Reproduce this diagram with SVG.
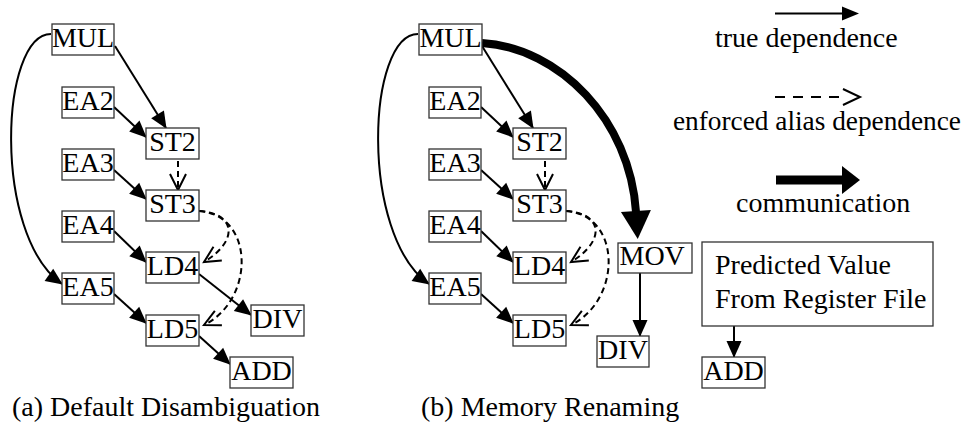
<svg xmlns="http://www.w3.org/2000/svg" width="969" height="431" viewBox="0 0 969 431">
<style>
.box{fill:#fff;stroke:#333;stroke-width:1.3}
.lbl{font-size:28px;fill:#000}
.nt{text-anchor:middle}
.e{fill:none;stroke:#000;stroke-width:2}
.d{fill:none;stroke:#000;stroke-width:2;stroke-dasharray:6,4}
.t{fill:none;stroke:#000;stroke-width:8}
</style>
<defs>
<marker id="ah" markerUnits="userSpaceOnUse" markerWidth="18" markerHeight="16" refX="16" refY="7.5" orient="auto" overflow="visible">
<path d="M0,0 L17,7.5 L0,15 z" fill="#000"/>
</marker>
<marker id="oh" markerUnits="userSpaceOnUse" markerWidth="18" markerHeight="18" refX="16" refY="8" orient="auto" overflow="visible">
<path d="M0,0 L16,8 L0,16" fill="none" stroke="#000" stroke-width="2"/>
</marker>
<marker id="th" markerUnits="userSpaceOnUse" markerWidth="30" markerHeight="32" refX="1" refY="15" orient="auto" overflow="visible">
<path d="M0,0 L28,15 L0,30 z" fill="#000"/>
</marker>
</defs>

<g id="connectors">
<path class="e" d="M51,34 C0,34 -8,235 62,284" marker-end="url(#ah)"/>
<line class="e" x1="115" y1="46" x2="166" y2="128" marker-end="url(#ah)"/>
<line class="e" x1="114" y1="107" x2="146" y2="137" marker-end="url(#ah)"/>
<line class="d" x1="178" y1="161" x2="178" y2="190" marker-end="url(#oh)"/>
<line class="e" x1="114" y1="170" x2="146" y2="199" marker-end="url(#ah)"/>
<path class="d" d="M199,211 C235,213 240,240 204,262" marker-end="url(#oh)"/>
<path class="d" d="M199,211 C255,215 255,300 204,325" marker-end="url(#oh)"/>
<line class="e" x1="114" y1="231" x2="146" y2="262" marker-end="url(#ah)"/>
<line class="e" x1="114" y1="294" x2="146" y2="323" marker-end="url(#ah)"/>
<line class="e" x1="199" y1="274" x2="251" y2="315" marker-end="url(#ah)"/>
<line class="e" x1="199" y1="336" x2="230" y2="364" marker-end="url(#ah)"/>
<path class="e" d="M418,34 C367,34 359,235 429,284" marker-end="url(#ah)"/>
<line class="e" x1="482" y1="46" x2="533" y2="128" marker-end="url(#ah)"/>
<line class="e" x1="481" y1="107" x2="513" y2="137" marker-end="url(#ah)"/>
<line class="d" x1="545" y1="161" x2="545" y2="190" marker-end="url(#oh)"/>
<line class="e" x1="481" y1="170" x2="513" y2="199" marker-end="url(#ah)"/>
<path class="d" d="M566,211 C602,213 607,240 571,262" marker-end="url(#oh)"/>
<path class="d" d="M566,211 C622,215 622,300 571,325" marker-end="url(#oh)"/>
<line class="e" x1="481" y1="231" x2="513" y2="262" marker-end="url(#ah)"/>
<line class="e" x1="481" y1="294" x2="513" y2="323" marker-end="url(#ah)"/>
<path class="t" d="M482,43 C560,48 630,120 636,212" marker-end="url(#th)"/>
<line class="e" x1="640" y1="273" x2="640" y2="336" marker-end="url(#ah)"/>
<line class="e" x1="734" y1="326" x2="734" y2="357" marker-end="url(#ah)"/>
</g>

<g font-family="Liberation Serif, Times New Roman, Times, serif">
<g id="legend">
<line x1="775" y1="13.5" x2="843" y2="13.5" stroke="#000" stroke-width="2"/>
<polygon points="842,6.5 859,13.5 842,20.5" fill="#000"/>
<text class="lbl" x="715" y="46.5">true dependence</text>
<line x1="775" y1="97" x2="841" y2="97" stroke="#000" stroke-width="2" stroke-dasharray="10,8"/>
<polyline points="843,89 860,97 843,105" fill="none" stroke="#000" stroke-width="2"/>
<text class="lbl" x="673" y="130" style="font-size:27.3px">enforced alias dependence</text>
<line x1="776" y1="180" x2="843" y2="180" stroke="#000" stroke-width="9"/>
<polygon points="842,166 860,180 842,194" fill="#000"/>
<text class="lbl" x="736" y="211.5">communication</text>
</g>

<g id="a-MUL"><rect class="box" x="52" y="24" width="62" height="31"/><text class="lbl nt" x="83" y="46.5">MUL</text></g>
<g id="a-EA2"><rect class="box" x="62" y="87" width="52" height="31"/><text class="lbl nt" x="88" y="109.5">EA2</text></g>
<g id="a-ST2"><rect class="box" x="146" y="128" width="53" height="31"/><text class="lbl nt" x="172.5" y="150.5">ST2</text></g>
<g id="a-EA3"><rect class="box" x="62" y="149" width="52" height="31"/><text class="lbl nt" x="88" y="171.5">EA3</text></g>
<g id="a-ST3"><rect class="box" x="146" y="190" width="53" height="31"/><text class="lbl nt" x="172.5" y="212.5">ST3</text></g>
<g id="a-EA4"><rect class="box" x="62" y="211" width="52" height="31"/><text class="lbl nt" x="88" y="233.5">EA4</text></g>
<g id="a-LD4"><rect class="box" x="146" y="252" width="53" height="31"/><text class="lbl nt" x="172.5" y="274.5">LD4</text></g>
<g id="a-EA5"><rect class="box" x="62" y="273" width="52" height="31"/><text class="lbl nt" x="88" y="295.5">EA5</text></g>
<g id="a-LD5"><rect class="box" x="146" y="315" width="53" height="31"/><text class="lbl nt" x="172.5" y="337.5">LD5</text></g>
<g id="a-DIV"><rect class="box" x="251" y="305" width="53" height="31"/><text class="lbl nt" x="277.5" y="327.5">DIV</text></g>
<g id="a-ADD"><rect class="box" x="230" y="357" width="63" height="31"/><text class="lbl nt" x="261.5" y="379.5">ADD</text></g>

<g id="b-MUL"><rect class="box" x="419" y="24" width="63" height="31"/><text class="lbl nt" x="450.5" y="46.5">MUL</text></g>
<g id="b-EA2"><rect class="box" x="429" y="87" width="52" height="31"/><text class="lbl nt" x="455" y="109.5">EA2</text></g>
<g id="b-ST2"><rect class="box" x="513" y="128" width="53" height="31"/><text class="lbl nt" x="539.5" y="150.5">ST2</text></g>
<g id="b-EA3"><rect class="box" x="429" y="149" width="52" height="31"/><text class="lbl nt" x="455" y="171.5">EA3</text></g>
<g id="b-ST3"><rect class="box" x="513" y="190" width="53" height="31"/><text class="lbl nt" x="539.5" y="212.5">ST3</text></g>
<g id="b-EA4"><rect class="box" x="429" y="211" width="52" height="31"/><text class="lbl nt" x="455" y="233.5">EA4</text></g>
<g id="b-LD4"><rect class="box" x="513" y="252" width="53" height="31"/><text class="lbl nt" x="539.5" y="274.5">LD4</text></g>
<g id="b-EA5"><rect class="box" x="429" y="273" width="52" height="31"/><text class="lbl nt" x="455" y="295.5">EA5</text></g>
<g id="b-LD5"><rect class="box" x="513" y="315" width="53" height="31"/><text class="lbl nt" x="539.5" y="337.5">LD5</text></g>
<g id="b-MOV"><rect class="box" x="618" y="243" width="74" height="30"/><text class="lbl" x="619.5" y="265">MOV</text></g>
<g id="b-DIV"><rect class="box" x="597" y="336" width="52" height="31"/><text class="lbl nt" x="623" y="358.5">DIV</text></g>
<g id="b-PRED"><rect class="box" x="702" y="242" width="231" height="84"/><text class="lbl" x="715" y="274">Predicted Value</text><text class="lbl" x="715" y="308">From Register File</text></g>
<g id="b-ADD"><rect class="box" x="702" y="357" width="63" height="31"/><text class="lbl nt" x="733.5" y="379.5">ADD</text></g>

<g id="captions">
<text class="lbl" x="12" y="416">(a) Default Disambiguation</text>
<text class="lbl" x="421" y="416">(b) Memory Renaming</text>
</g>
</g>
</svg>
